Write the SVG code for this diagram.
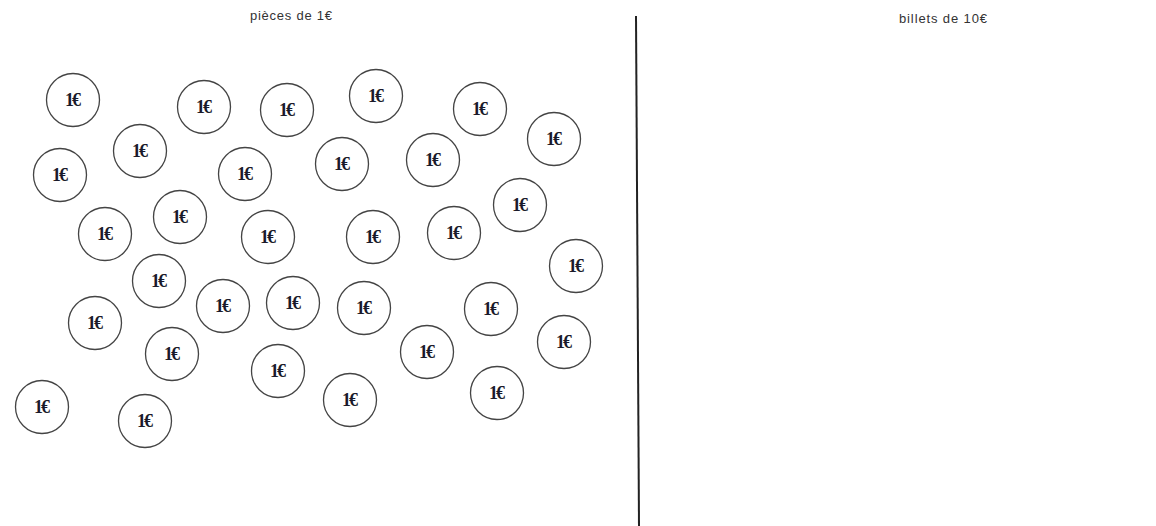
<svg xmlns="http://www.w3.org/2000/svg" width="1156" height="526" viewBox="0 0 1156 526">
<style>
.coin circle{fill:#fff;stroke:#444;stroke-width:1.3}
.coin text{font-family:"Liberation Sans",Arial,sans-serif;font-family:"Liberation Serif","Times New Roman",serif;font-weight:bold;font-size:18px;fill:#1a1a2a;text-anchor:middle}
.title{font-family:"Liberation Sans",Arial,sans-serif;font-size:13px;fill:#333}
</style>
<rect width="1156" height="526" fill="#fff"/>
<text class="title" x="250" y="20" textLength="82" lengthAdjust="spacing">pièces de 1€</text>
<text class="title" x="899" y="23" textLength="88" lengthAdjust="spacing">billets de 10€</text>
<g id="connectors">
<line x1="636" y1="16" x2="639" y2="526" stroke="#222" stroke-width="2"/>
</g>
<g id="coins">
<g id="c1" class="coin"><circle cx="73" cy="100" r="26.5"/><text x="73" y="106" textLength="16">1€</text></g>
<g id="c2" class="coin"><circle cx="204" cy="107" r="26.5"/><text x="204" y="113" textLength="16">1€</text></g>
<g id="c3" class="coin"><circle cx="287" cy="110" r="26.5"/><text x="287" y="116" textLength="16">1€</text></g>
<g id="c4" class="coin"><circle cx="376" cy="96" r="26.5"/><text x="376" y="102" textLength="16">1€</text></g>
<g id="c5" class="coin"><circle cx="480" cy="109" r="26.5"/><text x="480" y="115" textLength="16">1€</text></g>
<g id="c6" class="coin"><circle cx="554" cy="139" r="26.5"/><text x="554" y="145" textLength="16">1€</text></g>
<g id="c7" class="coin"><circle cx="140" cy="151" r="26.5"/><text x="140" y="157" textLength="16">1€</text></g>
<g id="c8" class="coin"><circle cx="60" cy="175" r="26.5"/><text x="60" y="181" textLength="16">1€</text></g>
<g id="c9" class="coin"><circle cx="245" cy="174" r="26.5"/><text x="245" y="180" textLength="16">1€</text></g>
<g id="c10" class="coin"><circle cx="342" cy="164" r="26.5"/><text x="342" y="170" textLength="16">1€</text></g>
<g id="c11" class="coin"><circle cx="433" cy="160" r="26.5"/><text x="433" y="166" textLength="16">1€</text></g>
<g id="c12" class="coin"><circle cx="520" cy="205" r="26.5"/><text x="520" y="211" textLength="16">1€</text></g>
<g id="c13" class="coin"><circle cx="180" cy="217" r="26.5"/><text x="180" y="223" textLength="16">1€</text></g>
<g id="c14" class="coin"><circle cx="105" cy="234" r="26.5"/><text x="105" y="240" textLength="16">1€</text></g>
<g id="c15" class="coin"><circle cx="268" cy="237" r="26.5"/><text x="268" y="243" textLength="16">1€</text></g>
<g id="c16" class="coin"><circle cx="373" cy="237" r="26.5"/><text x="373" y="243" textLength="16">1€</text></g>
<g id="c17" class="coin"><circle cx="454" cy="233" r="26.5"/><text x="454" y="239" textLength="16">1€</text></g>
<g id="c18" class="coin"><circle cx="576" cy="266" r="26.5"/><text x="576" y="272" textLength="16">1€</text></g>
<g id="c19" class="coin"><circle cx="159" cy="281" r="26.5"/><text x="159" y="287" textLength="16">1€</text></g>
<g id="c20" class="coin"><circle cx="223" cy="306" r="26.5"/><text x="223" y="312" textLength="16">1€</text></g>
<g id="c21" class="coin"><circle cx="293" cy="303" r="26.5"/><text x="293" y="309" textLength="16">1€</text></g>
<g id="c22" class="coin"><circle cx="364" cy="308" r="26.5"/><text x="364" y="314" textLength="16">1€</text></g>
<g id="c23" class="coin"><circle cx="491" cy="309" r="26.5"/><text x="491" y="315" textLength="16">1€</text></g>
<g id="c24" class="coin"><circle cx="95" cy="323" r="26.5"/><text x="95" y="329" textLength="16">1€</text></g>
<g id="c25" class="coin"><circle cx="172" cy="354" r="26.5"/><text x="172" y="360" textLength="16">1€</text></g>
<g id="c26" class="coin"><circle cx="427" cy="352" r="26.5"/><text x="427" y="358" textLength="16">1€</text></g>
<g id="c27" class="coin"><circle cx="564" cy="342" r="26.5"/><text x="564" y="348" textLength="16">1€</text></g>
<g id="c28" class="coin"><circle cx="278" cy="371" r="26.5"/><text x="278" y="377" textLength="16">1€</text></g>
<g id="c29" class="coin"><circle cx="350" cy="400" r="26.5"/><text x="350" y="406" textLength="16">1€</text></g>
<g id="c30" class="coin"><circle cx="497" cy="393" r="26.5"/><text x="497" y="399" textLength="16">1€</text></g>
<g id="c31" class="coin"><circle cx="42" cy="407" r="26.5"/><text x="42" y="413" textLength="16">1€</text></g>
<g id="c32" class="coin"><circle cx="145" cy="421" r="26.5"/><text x="145" y="427" textLength="16">1€</text></g>
</g>
</svg>
